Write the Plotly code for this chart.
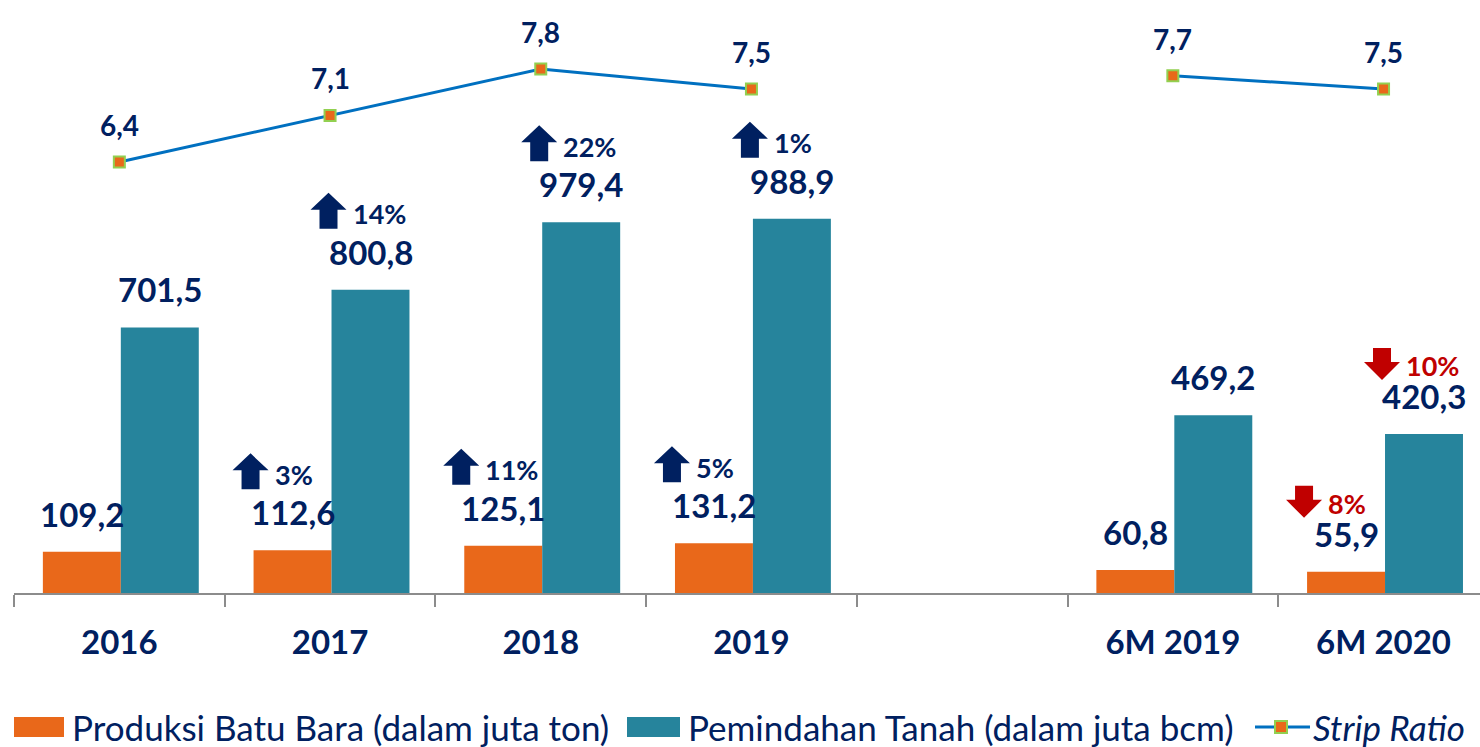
import plotly.graph_objects as go

# ---------------- data ----------------
categories = ["2016", "2017", "2018", "2019", "", "6M 2019", "6M 2020"]
produksi = [109.2, 112.6, 125.1, 131.2, None, 60.8, 55.9]          # juta ton
pemindahan = [701.5, 800.8, 979.4, 988.9, None, 469.2, 420.3]      # juta bcm
strip_ratio = [6.4, 7.1, 7.8, 7.5, None, 7.7, 7.5]
produksi_growth = [None, 3, 11, 5, None, None, -8]                 # %
pemindahan_growth = [None, 14, 22, 1, None, None, -10]             # %

legend_labels = ["Produksi Batu Bara (dalam juta ton)",
                 "Pemindahan Tanah (dalam juta bcm)",
                 "Strip Ratio"]

# ---------------- style ----------------
W, H = 1480, 747
ML, MR, MT, MB = 14, 0, 10, 154
PW, PH = W - ML - MR, H - MT - MB
ORANGE = "#E9681A"
TEAL = "#26849C"
NAVY = "#002060"
RED = "#C00000"
LINE_BLUE = "#0070C0"
MARK_GREEN = "#92D050"
AXIS_GRAY = "#8C8C8C"
FONT = "Lato"

BAR_W = 0.37
OFF_O = -0.363
OFF_T = 0.007

xpos = list(range(len(categories)))


def fmt(v):
    return f"{v:.1f}".replace(".", ",")


def px_x(p):
    return (p - ML) / PW


def px_y(p):
    return (H - MB - p) / PH


fig = go.Figure()

fig.add_trace(go.Bar(
    x=xpos, y=produksi, width=BAR_W, offset=OFF_O,
    marker=dict(color=ORANGE, line=dict(width=0)),
    name=legend_labels[0], showlegend=False, hoverinfo="y"))
fig.add_trace(go.Bar(
    x=xpos, y=pemindahan, width=BAR_W, offset=OFF_T,
    marker=dict(color=TEAL, line=dict(width=0)),
    name=legend_labels[1], showlegend=False, hoverinfo="y"))
fig.add_trace(go.Scatter(
    x=xpos, y=strip_ratio, yaxis="y2", mode="lines+markers",
    connectgaps=False,
    line=dict(color=LINE_BLUE, width=3),
    marker=dict(symbol="square", size=11, color=ORANGE,
                line=dict(color=MARK_GREEN, width=2)),
    name=legend_labels[2], showlegend=False, hoverinfo="y"))

annotations = []
shapes = []


def up_arrow_path(L, B):
    pts = [(L + 9, B), (L + 27, B), (L + 27, B + 19), (L + 36, B + 19),
           (L + 18, B + 36), (L, B + 19), (L + 9, B + 19)]
    return "M" + " L".join(f"{a},{b}" for a, b in pts) + " Z"


def down_arrow_path(L, B):
    T = B + 32
    pts = [(L + 9, T), (L + 27, T), (L + 27, T - 14), (L + 36, T - 14),
           (L + 18, T - 32), (L, T - 14), (L + 9, T - 14)]
    return "M" + " L".join(f"{a},{b}" for a, b in pts) + " Z"


def add_bar_labels(values, growth, off, yref="y"):
    for i, (v, g) in enumerate(zip(values, growth)):
        if v is None:
            continue
        xc = i + off + BAR_W / 2
        annotations.append(dict(
            x=xc, y=v, xref="x", yref=yref, text=fmt(v), showarrow=False,
            xanchor="center", yanchor="bottom", yshift=16,
            font=dict(family=FONT, size=33, color=NAVY, weight="bold")))
        if g is None:
            continue
        L = -60
        if g >= 0:
            B = 61
            path = up_arrow_path(L, B)
            col = NAVY
            mid = B + 18
        else:
            B = 54
            path = down_arrow_path(L, B)
            col = RED
            mid = B + 17
        shapes.append(dict(
            type="path", xref="x", yref=yref, xsizemode="pixel",
            ysizemode="pixel", xanchor=xc, yanchor=v, path=path,
            fillcolor=col, line=dict(width=0)))
        annotations.append(dict(
            x=xc, y=v, xref="x", yref=yref, text=f"{abs(g)}%",
            showarrow=False, xanchor="left", yanchor="middle",
            xshift=L + 40, yshift=mid - 3,
            font=dict(family=FONT, size=27, color=col, weight="bold")))


add_bar_labels(produksi, produksi_growth, OFF_O)
add_bar_labels(pemindahan, pemindahan_growth, OFF_T)

for i, v in enumerate(strip_ratio):
    if v is None:
        continue
    annotations.append(dict(
        x=i, y=v, xref="x", yref="y2", text=fmt(v), showarrow=False,
        xanchor="center", yanchor="bottom", yshift=18,
        font=dict(family=FONT, size=28, color=NAVY, weight="bold")))

# ---------------- custom legend ----------------
LEG_Y = 727
shapes.append(dict(type="rect", xref="paper", yref="paper",
                   x0=px_x(14), x1=px_x(64), y0=px_y(737), y1=px_y(717),
                   fillcolor=ORANGE, line=dict(width=0)))
shapes.append(dict(type="rect", xref="paper", yref="paper",
                   x0=px_x(627), x1=px_x(680), y0=px_y(737), y1=px_y(717),
                   fillcolor=TEAL, line=dict(width=0)))
shapes.append(dict(type="line", xref="paper", yref="paper",
                   x0=px_x(1255), x1=px_x(1310), y0=px_y(LEG_Y), y1=px_y(LEG_Y),
                   line=dict(color=LINE_BLUE, width=3)))
shapes.append(dict(type="rect", xref="paper", yref="paper",
                   x0=px_x(1275), x1=px_x(1287), y0=px_y(LEG_Y + 6), y1=px_y(LEG_Y - 6),
                   fillcolor=ORANGE, line=dict(color=MARK_GREEN, width=2)))
for txt, xl, style, sz in [(legend_labels[0], 70, "normal", 35),
                           (legend_labels[1], 686, "normal", 35),
                           (legend_labels[2], 1311, "italic", 35)]:
    annotations.append(dict(
        x=px_x(xl), y=px_y(LEG_Y), xref="paper", yref="paper", text=txt,
        showarrow=False, xanchor="left", yanchor="middle",
        font=dict(family=FONT, size=sz, color=NAVY, style=style)))

fig.update_layout(
    width=W, height=H,
    margin=dict(l=ML, r=MR, t=MT, b=MB, pad=0),
    paper_bgcolor="white", plot_bgcolor="white",
    showlegend=False,
    xaxis=dict(
        range=[-0.5, -0.5 + PW / 210.7],
        tickmode="array", tickvals=xpos, ticktext=categories,
        ticks="", showgrid=False, zeroline=False,
        showline=True, linecolor=AXIS_GRAY, linewidth=2,
        tickfont=dict(family=FONT, size=33, color=NAVY, weight="bold"),
        ticklabelstandoff=19,
        minor=dict(tickmode="array",
                   tickvals=[i - 0.5 for i in range(len(categories) + 1)],
                   ticks="outside", ticklen=12, tickwidth=2,
                   tickcolor=AXIS_GRAY, showgrid=False),
    ),
    yaxis=dict(range=[0, 1540], visible=False, showgrid=False, zeroline=False),
    yaxis2=dict(range=[-0.088, 8.688], overlaying="y", visible=False,
                showgrid=False, zeroline=False),
    annotations=annotations,
    shapes=shapes,
)

fig.write_html(
    "out.html",
    config={"displayModeBar": False},
    post_script="document.body.style.margin='0px';"
                "document.body.style.overflow='hidden';",
)
